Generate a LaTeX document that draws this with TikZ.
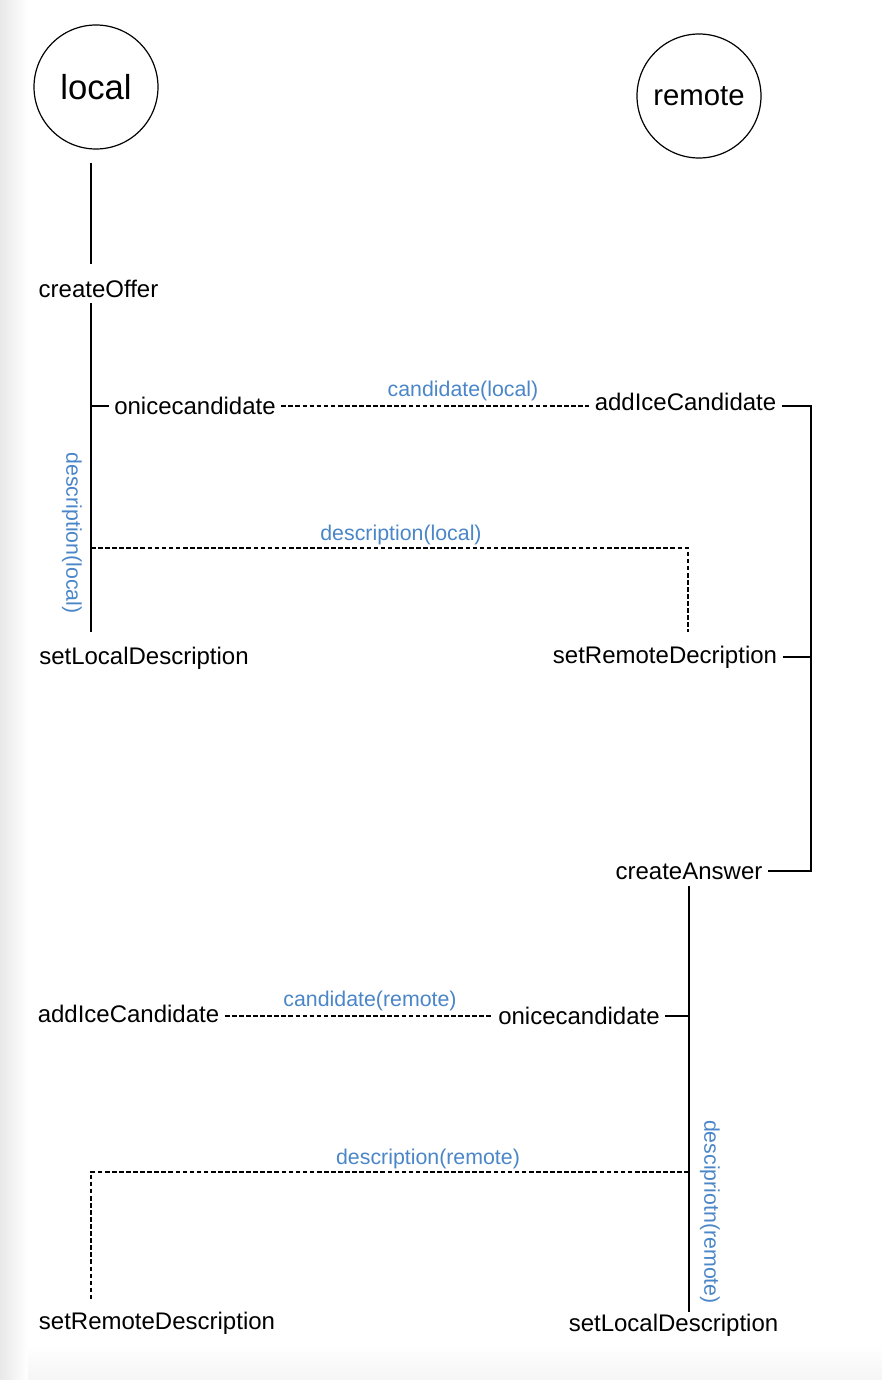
\documentclass[tikz,border=0pt]{standalone}
\usepackage{fontspec}
\setmainfont{Liberation Sans}
\usetikzlibrary{calc}
\definecolor{lblblue}{RGB}{74,134,200}
\begin{document}
\begin{tikzpicture}[x=0.75pt,y=-0.75pt,
  conn/.style={draw=black,line width=0.9pt},
  dashconn/.style={draw=black,line width=0.8pt,dash pattern=on 3.5pt off 1.8pt},
  actor/.style={circle,draw=black,line width=0.9pt,minimum size=124*0.75pt,inner sep=0pt},
  call/.style={inner xsep=4pt,inner ysep=2pt,font=\fontsize{18}{20}\selectfont,text=black},
  msg/.style={inner sep=1pt,font=\fontsize{16}{18}\selectfont,text=lblblue},
]
\useasboundingbox (0,0) rectangle (882,1380);
\fill[white] (0,0) rectangle (882,1380);
\shade[top color=white,bottom color=black!4] (0,1345) rectangle (882,1380);
\shade[left color=black!9,right color=white] (0,0) rectangle (28,1380);

% actors
\node[actor,font=\fontsize{26}{28}\selectfont] (loc) at (96,87) {local};
\node[actor,font=\fontsize{22}{24}\selectfont] (rem) at (699,96) {remote};

% calls
\node[call] (co) at (98.5,289) {createOffer};
\node[call] (oc1) at (195,406) {onicecandidate};
\node[call] (aic1) at (685.5,402) {addIceCandidate};
\node[call] (sld1) at (144,658) {setLocalDescription};
\node[call] (srd1) at (665,657) {setRemoteDecription};
\node[call] (ca) at (689,871) {createAnswer};
\node[call] (aic2) at (128.5,1014) {addIceCandidate};
\node[call] (oc2) at (579,1016) {onicecandidate};
\node[call] (srd2) at (157,1323) {setRemoteDescription};
\node[call] (sld2) at (673.5,1325) {setLocalDescription};

% message labels
\node[msg] (cl) at (463,391) {candidate(local)};
\node[msg] (dl) at (401,535) {description(local)};
\node[msg,rotate=-90] (dlv) at (72,533) {description(local)};
\node[msg] (cr) at (370,1001) {candidate(remote)};
\node[msg] (dr) at (428,1159) {description(remote)};
\node[msg,rotate=-90] (drv) at (710,1212) {descipriotn(remote)};

% local lifeline
\coordinate (lA) at (91,163);
\coordinate (lB) at (91,264);
\coordinate (lC) at (91,303);
\coordinate (lD) at (91,632);
\coordinate (lT) at (91,406);
\draw[conn] (lA) -- (lB);
\draw[conn] (lC) -- (lD);
\draw[conn] (lT) -- (lT -| oc1.west);

% candidate(local)
\draw[dashconn] (oc1.east) -- (oc1.east -| aic1.west);

% description(local)
\coordinate (lE) at (91,548);
\coordinate (rE) at (688,548);
\coordinate (rF) at (688,632);
\draw[dashconn] (lE) -- (rE) -- (rF);

% remote bracket
\coordinate (bR1) at (811,406);
\coordinate (bR2) at (811,871);
\draw[conn] (bR1 -| aic1.east) -- (bR1) -- (bR2) -- (bR2 -| ca.east);
\draw[conn] (srd1.east) -- (srd1.east -| bR1);

% remote lifeline after createAnswer
\coordinate (rG) at (689,886);
\coordinate (rH) at (689,1312);
\draw[conn] (rG) -- (rH);
\draw[conn] (oc2.east) -- (oc2.east -| rG);

% candidate(remote)
\draw[dashconn] (oc2.west -| aic2.east) -- (oc2.west);

% description(remote)
\coordinate (rJ) at (689,1172);
\coordinate (lJ) at (91,1172);
\coordinate (lK) at (91,1300);
\draw[dashconn] (rJ) -- (lJ) -- (lK);
\end{tikzpicture}
\end{document}
